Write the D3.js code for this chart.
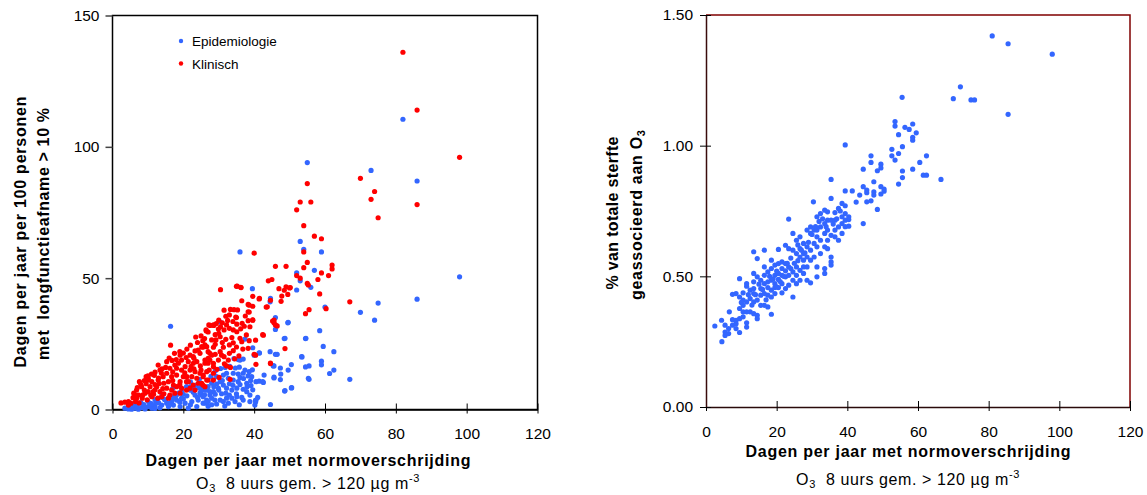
<!DOCTYPE html>
<html>
<head>
<meta charset="utf-8">
<script src="https://cdn.jsdelivr.net/npm/d3@7"></script>
<style>
  body { margin: 0; background: #fff; }
  text { font-family: "Liberation Sans", Arial, sans-serif; fill: #000; }
</style>
</head>
<body>
<div id="chart"></div>
<script>

// x ticks shared by both panels
var xTicks = [0, 20, 40, 60, 80, 100, 120];
var yTicksLeft = [0, 50, 100, 150];
var yTicksRight = [0, 0.5, 1.0, 1.5];

var legendLabels = ["Epidemiologie", "Klinisch"];
var xTitle = "Dagen per jaar met normoverschrijding";
var yTitleLeft = ["Dagen per jaar per 100 personen", "met  longfunctieafname > 10 %"];
var yTitleRight = ["% van totale sterfte", "geassocieerd aan O"];

// left panel, blue series: [dagen, dagen per 100 personen]
var epidemiologie = [
  [82,110.5],[55,94],[73,91],[86,87],[98,50.5],[86,42],[75,40.5],[70,37],[74,34],[67,11.5],
  [36,60],[53,64],[54,61],[59,60],[52,52],[57,53],[53,49],[56,46.5],[52,45.5],[39.5,46],
  [60,39],[44.5,41],[46,35],[46,30.5],[49.5,33],[58.5,30],[54.5,27],[48.5,27],[59.5,24],[62.5,22],
  [46,21],[44.5,22],[41.5,21.5],[53.5,20],[59,18.4],[59,17],[55.5,16.6],[54.5,16.2],[45.6,16.6],[47.4,15.8],
  [45.6,12],[47.4,11.4],[50.5,17.1],[49.6,15],[62.5,15],[61.3,13.7],[55.5,11.5],[42.6,10.3],[48.6,7],[50.5,8.2],
  [44.6,1.9],[40.4,3.5],[40.4,2.9],[16.4,31.7],[30.4,33.3],[37.4,26.8],[39.6,23.5],[34.3,19.4],[35.5,19],[41.4,10.8],
  [44.6,42.3],[49.6,33.2],[48.7,27.1],[54.6,27.1],[41.4,21.6],[46.5,21],[40,20.7],[36.9,19.2],[36,18.8],[53.4,20.1],
  [45.4,16.6],[47.5,13.5],[45.6,12.3],[48.7,7.2],[50.6,8.3],[40.5,10.6],[42.4,10.6],[40.5,3.6],[55.3,11.9],
  [36.9,13.8],[38.3,12.8],[39.3,12.5],[38.6,14.4],[37.4,15],[35.5,13.5],[34.1,13.8],[32.2,13.8],[31.3,13.1],[32.7,11.9],
  [34.1,11.2],[35.5,10.6],[37.9,10],[36.9,7.7],[35.1,8.1],[33.7,7.4],[32.2,8.1],[31.3,9.3],[30.4,10.6],[29.4,9.7],
  [29.4,12.5],[29.9,8.1],[28.5,6.8],[26.6,7.4],[25.6,8.1],[27.5,5.5],[26.6,3.6],[25.2,5.5],[28.9,3.6],[30.4,3.6],
  [32.2,4.3],[33.7,4.3],[35.1,4.9],[36.5,4.6],[37.9,6.8],[38.8,5.5],[36.9,3.6],[34.6,3],[32.7,2.4],[31.3,3],
  [29.4,2.1],[25.6,2.4],[38.8,3],[40.2,1.7],
  [20.9,8.7],[21.9,7.4],[23.3,5.5],[24.7,6.2],[25.6,4.9],[26.1,7.4],[27,8.7],[28,10],[27.5,6.8],[19.5,4.3],
  [18.1,3.6],[16.7,3],[15.3,2.4],[13.9,1.7],[12,1.3],[10.1,1.1],[8.2,0.7],[6.4,0.5],[4.5,0.2],[3.5,0.5],
  [20.5,2.4],[22.4,3],[24.2,3.6],[26.1,2.4],[28,4.3],[23.8,1.1],[21.4,0.5],[19.1,1.1],[17.2,1.7],[15.8,1.1],
  [13.4,0.7],[11.1,0.5],[9.2,0.2],[7.3,0.1],[5.4,0.1],
  [22,10.5],[23.5,9.2],[24.5,11.5],[25,9.8],[27.8,12.6],[29,14.7],[30.5,15.6],[31.8,16],[33.1,16.4],[18.8,6.3],
  [17.5,5.2],[14.7,3.8],[12.3,2.9],[10.5,2.3],[8.8,1.9],[22.8,6.6],[20,5.8],[16,4.6],[24.5,8.2],[34.7,15.8],
  [35.8,16.1],[39.1,9.1],[39.6,7.5],[41,4.6],[36,12.2],[33,9.8],[30.8,6],[28.6,8.7],[27,1.2],[31.7,1.3],
  [35.8,1.8],[39.5,15.1],[42.8,13.1],
  [5,1.2],[6,1.8],[7,1.4],[8,2.6],[9,1.2],[10,3.1],[11,2.2],[12,3.8],[13,2.6],[14,4.6],
  [15,3.6],[16,2.3],[17,4.2],[18,5.3],[19,2.8],[20,4],[21,5.2],[22,1.8],[23,7.8],[24,4.6],
  [25,6.8],[26,5.6],[27,3],[28,1.8],[29,5.8],[30,7.4],[31,11],[32,6.2],[33,5.5],[34,9.2],
  [35,6],[36,9.5],[37,11.8],[38,8.7],[39,11],[17,8],[19.5,6.8],[22,8.6],[14,5.8],[12,0.4]
];

// left panel, red series
var klinisch = [
  [82,136],[86,114],[98,96],[70,88],[74,83],[73,80],[75,73],[86,78],
  [55,86],[53,79],[56,79],[52,76],[54,70],[57,66],[59,65],[54,60],[40,59.5],[55,56],
  [46,54.5],[49,54.5],[54,54],[62,55],[62,53.5],[59,52],[61,51],[52,51],[53,50],
  [45,49.5],[44,49],[55,48],[58,49.5],[49,46.7],[50,46.3],[47,46],[48.5,45.4],
  [30.5,45.6],[35,46.9],[36.3,46.4],[58.5,44],[67,41],[39.6,43.1],[41.4,42.1],[44.6,41.6],[47.6,41.2],
  [43.4,39],[60.3,38.4],[55.5,38],[54.5,36.5],[45.6,34],[45.6,33],[31.5,37.8],[34.3,38],[38.6,39.7],[39.6,39.3],
  [38.6,37.1],[39.6,34],[48.7,23.2],[40.4,20.7],[42.6,28.3],[44.6,17.5],[40.4,26.4],[16.4,24.5],[23.5,27.6],
  [26.5,29.9],[27.6,32],[28.6,32],[29.3,32.7],
  [47.8,43.2],[49.5,43.8],[50.2,46.4],[55.3,47.4],[35.2,47],[36.2,46.5],[41.5,42.3],[36.5,41.4],[43.7,39.1],
  [38.3,40],[38.3,37.2],[33.3,38.1],[45.2,33.7],[46,32.2],[46.5,31.8],[39.6,34.1],[38.3,33.8],[36.6,32.8],
  [37.2,31.7],[38.8,31.5],[35.1,32.5],[42.4,28.5],[38.3,23.3],[40,21],[40.5,17.2],[44.6,17.7],
  [27.2,32.2],[26.4,30.3],[28.5,32.2],[29.9,30.6],[30.5,31.5],[32.2,32.2],[31.5,30.3],[33,30.9],[34.1,30.3],
  [35.1,29.6],[36,27.1],[36.5,25.8],[34.1,25.4],[33,24.6],[32,26.7],[30.4,27.7],[29.2,26.5],[28.5,23.7],
  [27.5,21.4],[26.6,23.9],[25.5,26.2],[25.5,23.7],[24.7,21.4],[26.1,18.8],[27,17.6],[27.3,15],[25.6,13.1],
  [26.6,11.2],[25.5,9.3],[31.3,23.7],[31.5,20.1],[33,21.4],[34.1,22.4],[32.7,18.8],[32.2,16.6],[33.2,11.5],
  [30.4,22],[29.9,18.8],[28.5,17.6],
  [2.4,2.5],[4.5,3],[5.2,2.4],[4.5,1.7],[6.8,7.4],[6.4,5.5],[6.8,4.3],[6.5,3],[7.6,10.6],[8.2,8.7],
  [9,7.4],[9.2,6.2],[8.4,4.3],[10.1,11.9],[11.1,10.6],[10.6,8.7],[10.1,6.8],[11.5,6.8],[11.1,4.9],[12.9,16.9],
  [13.4,15],[14.3,12.5],[12.9,11.2],[12.5,8.7],[13.4,6.8],[13.9,4.9],[12.8,4.3],
  [15.3,18.2],[16.2,15.7],[15.3,13.8],[16.7,12.5],[15.8,10.6],[17.2,9.3],[15.3,8.1],[16.7,7.4],[16.2,5.5],
  [17.6,6.2],[15.8,4.3],
  [17.5,21.4],[19.1,20.7],[18.6,17.6],[19.5,18.8],[18.1,15.7],[19.5,15],[20.5,16.3],[18.1,13.1],[20,12.5],
  [19.1,10.6],[20.9,10.6],[18.1,8.7],[19.5,8.1],[20.9,7.4],[19.1,6.2],
  [21.9,20.7],[22.8,20.1],[21.4,18.2],[22.8,17.6],[23.8,18.2],[21.9,15],[23.3,14.4],[22.4,12.5],[23.8,11.9],
  [21.4,10.6],[22.8,9.3],[24.2,10],[21.9,8.1],[23.3,7.4],[24.7,13.8],[25.2,23.9],[26.1,24.6],[27,22],
  [28,20.7],[27.5,18.8],[28.5,16.3],[26.1,17.6],[26.6,14.4],[25.6,12.5],[27,11.2],[28.5,11.2],[26.1,8.7],
  [25.2,10],[28.5,13.8],[24.2,22.6],
  [10,11.2],[9.5,9.8],[11.8,13],[13.8,13.9],[14.5,10],[14.2,8],[12,9.5],[10.8,5.5],[8.6,5.6],[7.4,5.5],
  [5.8,4.5],[3.5,2.8],[7.5,2.5],[9.8,3.7],[11.6,5.8],[13.2,9.9],[16.8,18.7],[17.6,16.9],[20.4,14],[22.2,16.4],
  [24.8,16.6],[23.3,22.3],[20.8,19.8],[29,24.8],[30,29],[31,25.5],[33.7,27.4],[35,23.8],[32.5,33.9],[34.8,35.2],
  [30.8,20.7],[29.5,15.3],[30.1,12.2],[31.6,17.4],[33.3,16],[34.5,19.3],[35.7,20.4],[36.8,23],[37.8,28.4],
  [38.6,26.2],[36.2,30.7],[37.5,35.6],[35.3,37.9],
  [6,6.2],[7,8.3],[8,9.6],[9,11],[10,12.8],[11,13.5],[12,14.2],[13,12],[14,15.5],[15,16],
  [16,19.6],[17,14.3],[18,19],[19,22],[20,21.5],[21,23],[22,24.5],[23,19.5],[24,25.5],[25,28],
  [26,27],[27,29.5],[28,26.5],[29,28.5],[30,34],[31,33],[32,35.5],[33,36],[34,33.5],[35,35],
  [9.5,12.5],[12,7.5],[14.5,6],[17,11],[19,9.5],[21,12.5],[23,15.5],[25,15],[27,19.5],[29,21]
];

// right panel: [dagen, % van totale sterfte]
var sterfte = [
  [81,1.42],[85.5,1.39],[98,1.35],[72,1.225],[70,1.18],[75,1.175],[76,1.175],[85.5,1.12],[55.5,1.185],
  [53.5,1.092],[53.5,1.075],[56.3,1.07],[57.5,1.062],[58.5,1.083],[59.5,1.049],[54.5,1.042],[58.5,1.032],
  [58.5,1.021],[55.6,0.996],[39.4,1.003],[52.6,0.986],[52.6,0.961],[54.5,0.97],[53.5,0.945],[46.7,0.961],
  [46.7,0.936],[44.5,0.91],[49.5,0.929],[49.5,0.915],[48.5,0.904],[62.4,0.961],[60.5,0.936],[58.5,0.91],
  [55.6,0.903],[55.6,0.878],[61.5,0.887],[62.4,0.887],[66.5,0.871],[35.4,0.871],[54.5,0.853],[47.5,0.862],
  [44.5,0.843],[45.5,0.83],[45.5,0.82],[49.5,0.843],[50.4,0.834],[50.4,0.826],[49.5,0.815],[41.4,0.827],
  [39.4,0.827],[47.5,0.823],[47.5,0.811],[43.5,0.811],[42.5,0.784],[45.5,0.785],[46.7,0.789],[48.5,0.756],
  [44.5,0.702],[30.4,0.785],[35.4,0.798],[38.5,0.779],[39.4,0.77],[37.5,0.76],[39.4,0.74],[40.4,0.728],
  [38.5,0.728],[40.4,0.717],[40.4,0.692],[36.5,0.744],[34.4,0.747],[33.6,0.753],[23.4,0.719],
  [2.5,0.31],[4.4,0.332],[4.5,0.25],[5.4,0.313],[5.4,0.287],[5.4,0.274],[6.6,0.364],[6.4,0.3],[6.4,0.281],
  [7.5,0.431],[8.5,0.434],[7.5,0.334],[7.5,0.313],[8.5,0.332],[8.5,0.319],[8.5,0.3],
  [9.5,0.491],[9.5,0.421],[9.5,0.377],[9.5,0.285],[9.5,0.338],
  [10.5,0.437],[10.5,0.409],[10.5,0.389],[10.5,0.364],[10.5,0.345],
  [11.5,0.472],[11.5,0.462],[11.5,0.402],[11.5,0.364],[11.5,0.322],[11.5,0.306],
  [12.5,0.447],[12.5,0.415],[12.5,0.364],
  [13.5,0.594],[13.5,0.511],[13.5,0.479],[13.5,0.453],[13.5,0.434],[13.5,0.402],[13.5,0.357],
  [14.5,0.568],[14.5,0.498],[14.5,0.409],[14.5,0.351],[14.5,0.338],
  [15.5,0.485],[15.5,0.453],[15.5,0.428],[15.5,0.389],
  [16.5,0.6],[16.5,0.536],[16.5,0.504],[16.5,0.472],[16.5,0.434],[16.5,0.389],
  [17.5,0.517],[17.5,0.479],[17.5,0.457],[17.5,0.428],[17.5,0.383],
  [18.5,0.562],[18.5,0.53],[18.5,0.485],[18.5,0.447],[18.5,0.421],[18.5,0.355],
  [19.5,0.543],[19.5,0.504],[19.5,0.472],[19.5,0.457],[19.5,0.434],
  [20.5,0.603],[20.5,0.549],[20.5,0.511],[20.5,0.488],[20.5,0.457],
  [21.5,0.555],[21.5,0.53],[21.5,0.504],[21.5,0.472],[21.5,0.437],
  [22.5,0.619],[22.5,0.549],[22.5,0.521],[22.5,0.498],[22.5,0.453],
  [23.4,0.606],[23.4,0.536],[23.4,0.504],[23.4,0.466],
  [24.6,0.664],[24.6,0.6],[24.6,0.517],[24.6,0.485],[24.6,0.421],
  [25.6,0.638],[25.6,0.587],[25.6,0.536],[25.6,0.504],[25.6,0.472],
  [26.6,0.651],[26.6,0.606],[26.6,0.574],[26.6,0.523],[26.6,0.485],
  [27.6,0.626],[27.6,0.587],[27.6,0.562],[27.6,0.536],[27.6,0.511],
  [28.6,0.677],[28.6,0.613],[28.6,0.574],[28.6,0.536],[28.6,0.485],
  [29.6,0.689],[29.6,0.664],[29.6,0.6],[29.6,0.562],[29.6,0.475],
  [30.6,0.677],[30.6,0.626],[30.6,0.574],
  [31.4,0.728],[31.4,0.677],[31.4,0.651],[31.4,0.613],[31.4,0.536],[31.4,0.498],
  [32.4,0.74],[32.4,0.689],[32.4,0.638],[32.4,0.587],
  [33.6,0.702],[33.6,0.664],[33.6,0.613],[33.6,0.53],[33.6,0.511],
  [34.4,0.715],[34.4,0.677],[34.4,0.638],[34.4,0.606],
  [35.4,0.715],[35.4,0.657],[35.4,0.574],[35.4,0.555],[35.4,0.543],
  [36.5,0.715],[36.5,0.677],[36.5,0.651],[37.5,0.689],[37.5,0.638],[38.5,0.702],[38.5,0.664],
  [39.4,0.715],[39.4,0.69],
  [12,0.43],[13,0.39],[15,0.47],[17,0.41],[19,0.49],[20,0.52],[21,0.48],[22,0.5],[23,0.55],[24,0.53],
  [25,0.55],[26,0.56],[27,0.6],[28,0.59],[29,0.63],[30,0.66],[31,0.69],[32,0.71],[33,0.72],[34,0.69],
  [36,0.7],[37,0.72],[38,0.75],[24,0.57],[26,0.62],[20,0.46],[18,0.5],[16,0.45],[14,0.43],[10,0.4]
];

var blue = "#3366ff",
    red = "#ff0000";

var svg = d3.select("#chart").append("svg")
    .attr("width", 1147)
    .attr("height", 495);

// ---------- left panel ----------
var xL = d3.scaleLinear().domain([0, 120]).range([112.5, 537.5]);
var yL = d3.scaleLinear().domain([0, 150]).range([409.5, 15.5]);

svg.append("rect")
    .attr("x", xL(0)).attr("y", yL(150))
    .attr("width", xL(120) - xL(0)).attr("height", yL(0) - yL(150))
    .attr("fill", "none").attr("stroke", "#000").attr("stroke-width", 1.5);

var gxL = svg.append("g")
    .attr("transform", "translate(0," + yL(0) + ")")
    .call(d3.axisBottom(xL).tickValues(xTicks).tickSizeOuter(0));
styleXAxis(gxL, 29.5);

var gyL = svg.append("g")
    .attr("transform", "translate(" + xL(0) + ",0)")
    .call(d3.axisLeft(yL).tickValues(yTicksLeft).tickSize(7).tickPadding(6).tickSizeOuter(0));
gyL.select(".domain").remove();
gyL.selectAll("line").attr("stroke", "#444").attr("stroke-width", 1.5);
gyL.selectAll("text").attr("font-size", 15.5).attr("font-family", "Liberation Sans, Arial, sans-serif");

drawDots(svg, epidemiologie, xL, yL, blue);
drawDots(svg, klinisch, xL, yL, red);

// legend
var legend = svg.append("g");
legendLabels.forEach(function(lab, i) {
    legend.append("circle")
        .attr("cx", 181).attr("cy", 41 + i * 22.5)
        .attr("r", 2.2)
        .attr("fill", i == 0 ? blue : red);
    legend.append("text")
        .attr("x", 192).attr("y", 46 + i * 22.5)
        .attr("font-size", 13.5)
        .text(lab);
});

xTitleBlock(308, 466, 489);

yTitle(26, 232, yTitleLeft[0], 271);
yTitle(49, 234, yTitleLeft[1], 252);

// ---------- right panel ----------
var xR = d3.scaleLinear().domain([0, 120]).range([706, 1130]);
var yR = d3.scaleLinear().domain([0, 1.5]).range([407, 15]);

// top and right of the frame are dark red
svg.append("path")
    .attr("d", "M" + xR(0) + "," + yR(1.5) + "H" + xR(120) + "V" + yR(0))
    .attr("fill", "none").attr("stroke", "#800000").attr("stroke-width", 1.5);

var gxR = svg.append("g")
    .attr("transform", "translate(0," + yR(0) + ")")
    .call(d3.axisBottom(xR).tickValues(xTicks).tickSizeOuter(0));
styleXAxis(gxR, 30);
gxR.select(".domain").attr("stroke", "#2a0a0a");

var gyR = svg.append("g")
    .attr("transform", "translate(" + xR(0) + ",0)")
    .call(d3.axisLeft(yR).tickValues(yTicksRight).tickFormat(d3.format(".2f")).tickSize(5).tickPadding(8).tickSizeOuter(0));
gyR.select(".domain").attr("stroke", "#3a0c0c").attr("stroke-width", 1.5);
gyR.selectAll("line").attr("x2", -6).attr("x1", 5).attr("stroke", "#000");
gyR.selectAll("text").attr("font-size", 15.5).attr("font-family", "Liberation Sans, Arial, sans-serif");

drawDots(svg, sterfte, xR, yR, blue);

xTitleBlock(908, 457, 485);

yTitle(618, 213, yTitleRight[0], 153);
var t2 = yTitle(642, 215, yTitleRight[1], 170);
t2.append("tspan").attr("font-size", 11).attr("dy", 3).text("3");

// ---------- helpers ----------
function drawDots(g, data, x, y, color) {
    g.append("g").selectAll("circle")
        .data(data)
        .enter()
        .append("circle")
        .attr("cx", function(d) { return x(d[0]); })
        .attr("cy", function(d) { return y(d[1]); })
        .attr("r", 2.6)
        .attr("fill", color);
}

function styleXAxis(g, labelY) {
    g.select(".domain").attr("stroke", "#000").attr("stroke-width", 1.5);
    g.selectAll(".tick line").attr("y1", -6).attr("y2", 4).attr("stroke", "#000");
    g.selectAll(".tick text")
        .attr("y", labelY).attr("dy", 0)
        .attr("font-size", 15.5)
        .attr("font-family", "Liberation Sans, Arial, sans-serif");
}

function xTitleBlock(cx, y1, y2) {
    svg.append("text")
        .attr("x", cx).attr("y", y1)
        .attr("text-anchor", "middle")
        .attr("font-size", 16).attr("font-weight", "bold")
        .attr("textLength", 325).attr("lengthAdjust", "spacing")
        .text(xTitle);

    var sub = svg.append("text")
        .attr("x", cx).attr("y", y2)
        .attr("text-anchor", "middle")
        .attr("font-size", 16)
        .attr("letter-spacing", 0.6);
    sub.append("tspan").text("O");
    sub.append("tspan").attr("font-size", 11).attr("dy", 3).text("3");
    sub.append("tspan").attr("dy", -3).text("\u00a0 8 uurs gem. > 120 µg m");
    sub.append("tspan").attr("font-size", 11).attr("dy", -7).text("-3");
}

function yTitle(x, cy, label, len) {
    return svg.append("text")
        .attr("transform", "translate(" + x + "," + cy + ") rotate(-90)")
        .attr("text-anchor", "middle")
        .attr("font-size", 16).attr("font-weight", "bold")
        .attr("textLength", len).attr("lengthAdjust", "spacing")
        .attr("xml:space", "preserve")
        .text(label);
}

</script>
</body>
</html>
